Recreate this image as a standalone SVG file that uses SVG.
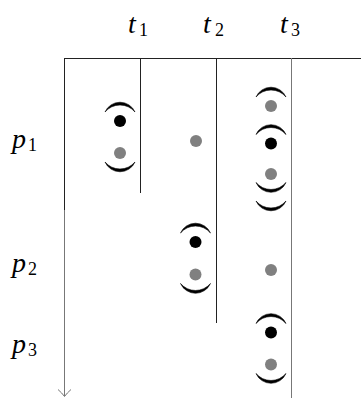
<svg xmlns="http://www.w3.org/2000/svg" xmlns:xlink="http://www.w3.org/1999/xlink" width="361" height="398" viewBox="0 0 361 398">
  <style>
    .lbl { font-family: "Liberation Serif", "DejaVu Serif", serif; font-style: italic; font-size: 28px; fill: #000; }
    .sub { font-family: "Liberation Serif", "DejaVu Serif", serif; font-style: normal; font-size: 18px; fill: #000; }
    .dark { stroke: #222; stroke-width: 1; fill: none; }
    .light { stroke: #777; stroke-width: 1; fill: none; }
    .arc { fill: #000; stroke: #000; stroke-width: 0.6; stroke-linejoin: round; }
    .blk { fill: #000; }
    .gry { fill: #808080; }
  </style>
  <defs>
    <path id="arcT" class="arc" d="M -15 -9 A 16.4 16.4 0 0 1 15 -9 A 19.6 19.6 0 0 0 -15 -9 Z"/>
    <path id="arcB" class="arc" d="M -15 9 A 16.4 16.4 0 0 0 15 9 A 19.6 19.6 0 0 1 -15 9 Z"/>
  </defs>

  <g id="connectors">
    <line class="dark" x1="64" y1="58.5" x2="361" y2="58.5"/>
    <line class="light" x1="64.5" y1="58" x2="64.5" y2="396"/>
    <path class="light" d="M 58 389.5 Q 62 393 64.5 396.5 Q 67 393 71 389.5"/>
    <line class="dark" x1="64.5" y1="58" x2="64.5" y2="210"/>
    <line class="dark" x1="140.5" y1="58" x2="140.5" y2="193"/>
    <line class="dark" x1="216.5" y1="58" x2="216.5" y2="323"/>
    <line class="light" x1="291.5" y1="58" x2="291.5" y2="398"/>
  </g>

  <g id="label-t1"><text class="lbl" x="128" y="33">t</text><text class="sub" x="139" y="36">1</text></g>
  <g id="label-t2"><text class="lbl" x="203" y="33">t</text><text class="sub" x="215" y="36">2</text></g>
  <g id="label-t3"><text class="lbl" x="280" y="33">t</text><text class="sub" x="291" y="36">3</text></g>

  <g id="label-p1"><text class="lbl" x="12" y="148">p</text><text class="sub" x="28" y="151">1</text></g>
  <g id="label-p2"><text class="lbl" x="12" y="271.5">p</text><text class="sub" x="28" y="274.5">2</text></g>
  <g id="label-p3"><text class="lbl" x="12" y="353">p</text><text class="sub" x="28" y="356">3</text></g>

  <g id="t1-p1">
    <use xlink:href="#arcT" x="120" y="121"/>
    <circle class="blk" cx="120" cy="121" r="6"/>
    <circle class="gry" cx="120" cy="153" r="6"/>
    <use xlink:href="#arcB" x="120" y="153"/>
  </g>
  <g id="t2-p1">
    <circle class="gry" cx="196" cy="141" r="6"/>
  </g>
  <g id="t2-p2">
    <use xlink:href="#arcT" x="195.5" y="242"/>
    <circle class="blk" cx="195.5" cy="242" r="6"/>
    <circle class="gry" cx="195.5" cy="274.5" r="6"/>
    <use xlink:href="#arcB" x="195.5" y="274.5"/>
  </g>
  <g id="t3-p1">
    <use xlink:href="#arcT" x="271" y="106"/>
    <circle class="gry" cx="271" cy="106" r="6"/>
    <use xlink:href="#arcT" x="271" y="143.5"/>
    <circle class="blk" cx="271" cy="143.5" r="6"/>
    <circle class="gry" cx="271" cy="174" r="6"/>
    <use xlink:href="#arcB" x="271" y="173.5"/>
    <use xlink:href="#arcB" x="271" y="192"/>
  </g>
  <g id="t3-p2">
    <circle class="gry" cx="271" cy="270" r="6"/>
  </g>
  <g id="t3-p3">
    <use xlink:href="#arcT" x="271" y="332.5"/>
    <circle class="blk" cx="271" cy="332.5" r="6"/>
    <circle class="gry" cx="271" cy="364.5" r="6"/>
    <use xlink:href="#arcB" x="271" y="364.5"/>
  </g>
</svg>
